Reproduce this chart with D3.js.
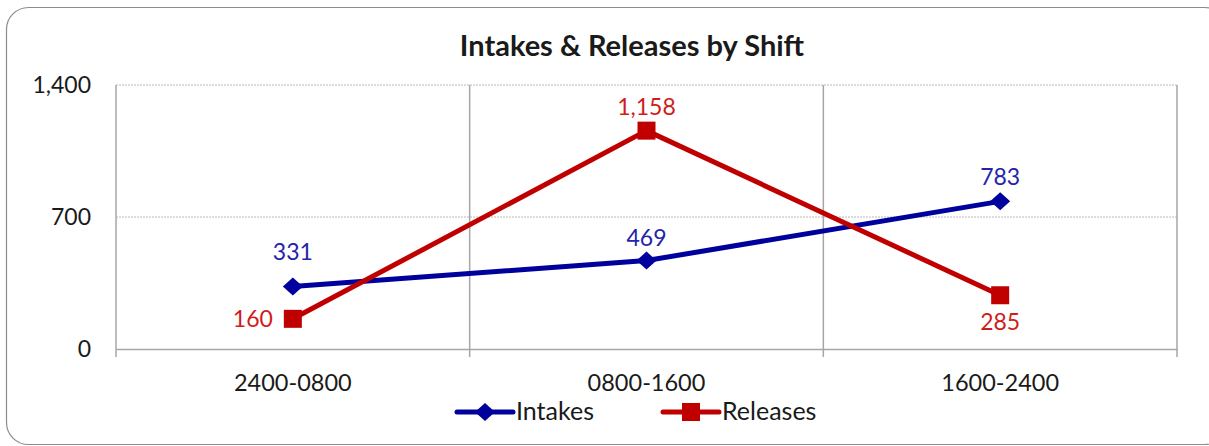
<!DOCTYPE html>
<html>
<head>
<meta charset="utf-8">
<script src="https://cdn.jsdelivr.net/npm/d3@7"></script>
<style>
  body { margin: 0; background: #fff; }
  text { font-family: Lato, "Open Sans", sans-serif; }
</style>
</head>
<body>
<script>
// data
var shifts = ['2400-0800', '0800-1600', '1600-2400'];
var intakes = [331, 469, 783];
var releases = [160, 1158, 285];
var yTicks = [0, 700, 1400];
var seriesNames = ['Intakes', 'Releases'];

// colors
var blue = '#00009c';
var red = '#c00000';
var blueText = '#2424aa';
var redText = '#d01c1c';
var gridColor = '#a6a6a6';

var W = 1209, H = 446;
var margin = {top: 85, right: 32, bottom: 97, left: 116};
var w = W - margin.left - margin.right;
var h = H - margin.top - margin.bottom;

var svg = d3.select('body').append('svg')
            .attr('width', W)
            .attr('height', H);

// outer frame
svg.append('rect')
   .attr('x', 6.5).attr('y', 7.5)
   .attr('width', 1220).attr('height', 437)
   .attr('rx', 22).attr('ry', 22)
   .attr('fill', '#fff')
   .attr('stroke', '#8c8c8c')
   .attr('stroke-width', 1.2);

var xScale = d3.scaleBand().domain(shifts).range([0, w]);
var yScale = d3.scaleLinear().domain([0, 1400]).range([h, 0]);

var focus = svg.append('g')
               .attr('transform', 'translate(' + margin.left + ',' + margin.top + ')');

// horizontal gridlines (dotted)
focus.selectAll('.hgrid')
     .data(yTicks.filter(function(d) { return d > 0; }))
     .enter().append('line')
     .attr('class', 'hgrid')
     .attr('x1', 0).attr('x2', w)
     .attr('y1', function(d) { return yScale(d); })
     .attr('y2', function(d) { return yScale(d); })
     .attr('stroke', '#b8b8b8')
     .attr('stroke-width', 1)
     .attr('stroke-dasharray', '2,1');

// vertical gridlines at category boundaries + right border
var bounds = shifts.slice(1).map(function(s) { return xScale(s); }).concat([w]);
focus.selectAll('.vgrid')
     .data(bounds)
     .enter().append('line')
     .attr('class', 'vgrid')
     .attr('x1', function(d) { return d; })
     .attr('x2', function(d) { return d; })
     .attr('y1', 0).attr('y2', h + 8)
     .attr('stroke', gridColor)
     .attr('stroke-width', 1.5);

// x axis
var xAxis = focus.append('g')
     .attr('class', 'axis axis--x')
     .attr('transform', 'translate(0,' + h + ')')
     .call(d3.axisBottom(xScale).tickSize(0).tickPadding(25));
xAxis.select('.domain').attr('stroke', gridColor).attr('stroke-width', 1.5);
xAxis.selectAll('text')
     .attr('font-family', 'Lato, sans-serif')
     .attr('font-size', 23.5)
     .attr('fill', '#1a1a1a');
// left tick below axis
focus.append('line')
     .attr('x1', 0).attr('x2', 0)
     .attr('y1', 0).attr('y2', h + 8)
     .attr('stroke', gridColor).attr('stroke-width', 1.5);

// y axis
var yAxis = focus.append('g')
     .attr('class', 'axis axis--y')
     .call(d3.axisLeft(yScale).tickValues(yTicks).tickSize(0).tickPadding(25)
            .tickFormat(d3.format(',')));
yAxis.select('.domain').remove();
yAxis.selectAll('text')
     .attr('font-family', 'Lato, sans-serif')
     .attr('font-size', 23)
     .attr('fill', '#1a1a1a');

// lines
var cx = function(i) { return xScale(shifts[i]) + xScale.bandwidth() / 2; };
var line = d3.line()
             .x(function(d, i) { return cx(i); })
             .y(function(d) { return yScale(d); });

focus.append('path').datum(intakes)
     .attr('d', line).attr('fill', 'none')
     .attr('stroke', blue).attr('stroke-width', 5)
     .attr('stroke-linejoin', 'round');

focus.append('path').datum(releases)
     .attr('d', line).attr('fill', 'none')
     .attr('stroke', red).attr('stroke-width', 5)
     .attr('stroke-linejoin', 'round');

// markers
var diamond = 'M-10,0L0,-9L10,0L0,9Z';
focus.selectAll('.m-int')
     .data(intakes).enter().append('path')
     .attr('class', 'm-int')
     .attr('d', diamond)
     .attr('transform', function(d, i) { return 'translate(' + cx(i) + ',' + yScale(d) + ')'; })
     .attr('fill', blue);

focus.selectAll('.m-rel')
     .data(releases).enter().append('rect')
     .attr('class', 'm-rel')
     .attr('x', function(d, i) { return cx(i) - 9; })
     .attr('y', function(d) { return yScale(d) - 9; })
     .attr('width', 18).attr('height', 18)
     .attr('fill', red);

// data labels
var fmt = d3.format(',');
var intOffset = [-27, -15, -16];
focus.selectAll('.l-int')
     .data(intakes).enter().append('text')
     .attr('class', 'l-int')
     .attr('x', function(d, i) { return cx(i); })
     .attr('y', function(d, i) { return yScale(d) + intOffset[i]; })
     .attr('text-anchor', 'middle')
     .attr('font-size', 23)
     .attr('fill', blueText)
     .text(function(d) { return fmt(d); });

// releases: left, above, below
var relPos = ['left', 'above', 'below'];
focus.selectAll('.l-rel')
     .data(releases).enter().append('text')
     .attr('class', 'l-rel')
     .attr('x', function(d, i) { return relPos[i] == 'left' ? cx(i) - 20 : cx(i); })
     .attr('y', function(d, i) {
       if (relPos[i] == 'above') return yScale(d) - 16;
       if (relPos[i] == 'below') return yScale(d) + 35;
       return yScale(d) + 8;
     })
     .attr('text-anchor', function(d, i) { return relPos[i] == 'left' ? 'end' : 'middle'; })
     .attr('font-size', 23)
     .attr('fill', redText)
     .text(function(d) { return fmt(d); });

// title
svg.append('text')
   .attr('x', 632).attr('y', 56)
   .attr('text-anchor', 'middle')
   .attr('font-size', 29)
   .attr('font-weight', 'bold')
   .attr('fill', '#1a1a1a')
   .text('Intakes & Releases by Shift');

// legend
var legend = svg.append('g').attr('transform', 'translate(0,412)');
var legX = [457, 663];
seriesNames.forEach(function(name, i) {
  var g = legend.append('g').attr('transform', 'translate(' + legX[i] + ',0)');
  g.append('line')
   .attr('x1', 0).attr('x2', 56)
   .attr('y1', 0).attr('y2', 0)
   .attr('stroke', i == 0 ? blue : red)
   .attr('stroke-width', 5)
   .attr('stroke-linecap', 'round');
  if (i == 0) {
    g.append('path').attr('d', diamond)
     .attr('transform', 'translate(28,0)')
     .attr('fill', blue);
  } else {
    g.append('rect').attr('x', 19).attr('y', -9)
     .attr('width', 18).attr('height', 18)
     .attr('fill', red);
  }
  g.append('text')
   .attr('x', 59).attr('y', 8)
   .attr('font-size', 25)
   .attr('fill', '#1a1a1a')
   .text(name);
});
</script>
</body>
</html>
